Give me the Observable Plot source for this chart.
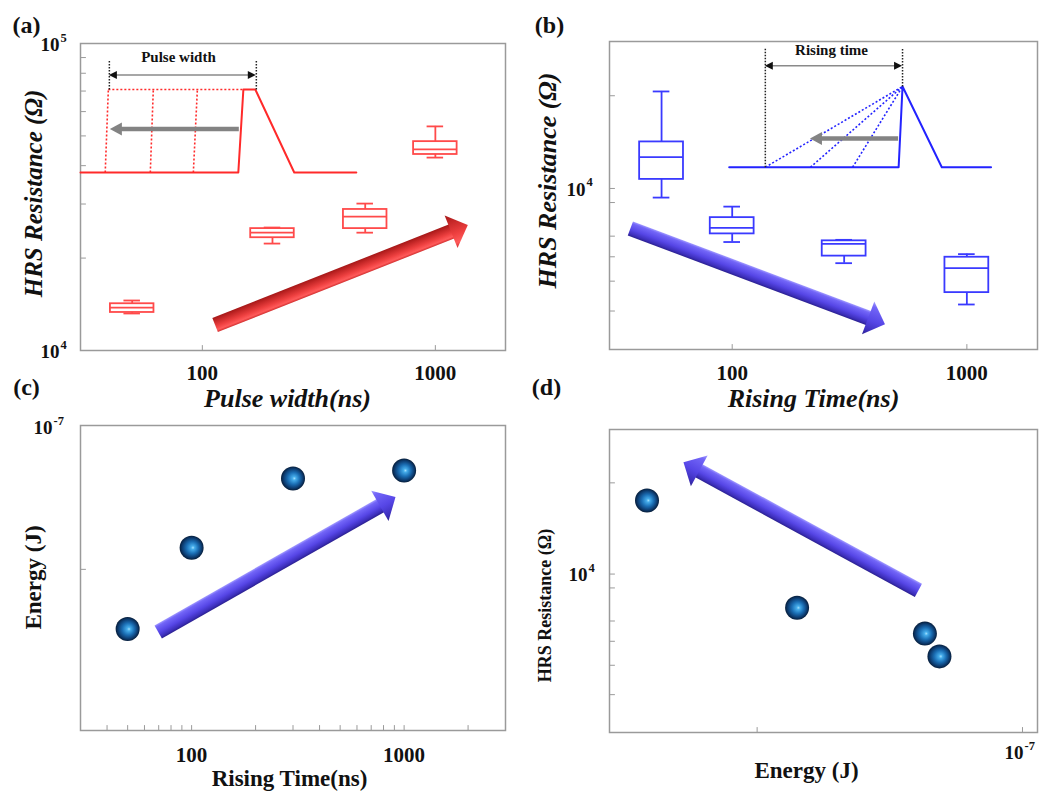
<!DOCTYPE html>
<html>
<head>
<meta charset="utf-8">
<script src="https://cdn.jsdelivr.net/npm/d3@7"></script>
<script src="https://cdn.jsdelivr.net/npm/@observablehq/plot@0.6"></script>
<style>
  html, body { margin: 0; padding: 0; background: #fff; }
  #fig { position: relative; width: 1045px; height: 796px; overflow: hidden; }
  #fig > div { position: absolute; }
  #fig svg { overflow: visible; }
</style>
</head>
<body>
<div id="fig"></div>
<script>
const serif = "'Liberation Serif', 'Times New Roman', serif";
const ink = "#111111";
const frameGray = "#9a9a9a";

// ---------- data ----------
// (a) HRS resistance after pulses of different width (box statistics, ohm)
const pulseWidth = [50, 200, 500, 1000];
const pwLow  = [13200, 22300, 24200, 42500];
const pwQ1   = [13300, 23300, 24950, 43500];
const pwMed  = [13800, 24200, 27300, 45200];
const pwQ3   = [14200, 24950, 28800, 47900];
const pwHigh = [14550, 25150, 30100, 53700];

// (b) HRS resistance after pulses of different rising time (ohm)
const risingTime = [50, 100, 300, 1000];
const rtLow  = [9340, 6700, 5720, 4200];
const rtQ1   = [10700, 7120, 6030, 4590];
const rtMed  = [12640, 7450, 6610, 5510];
const rtQ3   = [14160, 8040, 6760, 5980];
const rtHigh = [20650, 8730, 6810, 6120];

// (c)(d) switching energy (J) and HRS (ohm) for each rising time
const energy = [3.75e-8, 5.55e-8, 7.75e-8, 8.05e-8];
const hrs    = [17500, 7740, 6360, 5350];

// axis ticks and labels
const timeTicks = [100, 1000];
const timeTickLabels = ["100", "1000"];
const timeMinor = [40, 50, 60, 70, 80, 90, 100, 200, 300, 400, 500, 600, 700, 800, 900, 1000, 2000];
const resMinorA = [2e4, 3e4, 4e4, 5e4, 6e4, 7e4, 8e4, 9e4];
const resDecadesA = [1e4, 1e5];
const resExpA = ["4", "5"];
const resMinorB = [4000, 5000, 6000, 7000, 9000, 1e4, 2e4];
const resDecadesB = [1e4];
const resExpB = ["4"];
const energyTicks = [5e-8, 1e-7];
const energyDecades = [1e-7];
const energyExp = ["-7"];

// inset sketch (a): rectangular pulse and shorter pulse widths
const pwPulseT = [30, 142.7, 150, 168.8, 248, 458];
const pwPulseV = [38000, 38000, 70800, 70800, 38000, 38000];
const pwEdgeLow = [38.3, 59.8, 91.5];
const pwEdgeHigh = [39.5, 61.6, 95.2];
const pwLevels = [38000, 70800];
const pwGuideT = [39.9, 170.5];
const pwGuideV = [70800, 88000];
const pwSpanV = 78660;
const pwLabel = [[79, 89950, "Pulse width"]];
const pwShift = [[144.1, 52470], [40.3, 52470]];

// inset sketch (b): triangular pulse and longer rising ramps
const rtPulseT = [97.1, 512, 532, 782, 1268];
const rtPulseV = [11720, 11720, 21430, 11720, 11720];
const rtApex = [532, 21430];
const rtRampStart = [138.4, 215.5, 326];
const rtBase = 11720;
const rtGuideT = [138.4, 532];
const rtGuideLow = [11720, 21430];
const rtGuideTop = 28580;
const rtSpanV = 24930;
const rtLabel = [[265, 28130, "Rising time"]];
const rtShift = [[512, 14480], [215.5, 14480]];

// trend arrows, tail -> head, in each panel's data units
const trendA = [[114, 12060], [1385, 25530]];
const trendB = [[37, 7390], [450, 3610]];
const trendC = [[70, 3.69e-8], [916, 7.07e-8]];
const trendD = [[7.63e-8, 8800], [4.13e-8, 23280]];

// ---------- helpers ----------
const fig = document.getElementById("fig");
function place(node, left, top) {
  const d = document.createElement("div");
  d.style.left = left + "px";
  d.style.top = top + "px";
  d.appendChild(node);
  fig.appendChild(d);
}

const tickShape = {draw(ctx, l) { ctx.moveTo(0, 0); ctx.lineTo(0, -l); }};
function xTicks(values, yBase) {
  return Plot.vector(values, {x: d => d, y: () => yBase, length: 5, rotate: 0, anchor: "start",
    shape: tickShape, stroke: frameGray, strokeWidth: 1});
}
function yTicks(values, xBase) {
  return Plot.vector(values, {x: () => xBase, y: d => d, length: 5, rotate: 90, anchor: "start",
    shape: tickShape, stroke: frameGray, strokeWidth: 1});
}

// "10" with a raised exponent, for decade labels
function decadeLabels(values, exps, axis, {dx, dy = 0, size = 19, expSize = 12.5, frameAnchor}) {
  const pos = axis === "y" ? {y: d => d} : {x: d => d};
  const common = {...pos, frameAnchor, lineAnchor: "middle", fontWeight: "bold", fill: ink};
  return [
    Plot.text(values, {...common, text: () => "10", textAnchor: "end", dx, dy, fontSize: size}),
    Plot.text(values, {...common, text: (d, i) => exps[i], textAnchor: "start", dx: dx + 1, dy: dy - 7, fontSize: expSize})
  ];
}

function boxMarks(rows, color, half = 1.24, cap = 1.085) {
  const s = {stroke: color, strokeWidth: 1.8};
  return [
    Plot.ruleX(rows, {x: "x", y1: "q3", y2: "hi", ...s}),
    Plot.ruleX(rows, {x: "x", y1: "lo", y2: "q1", ...s}),
    Plot.ruleY(rows, {y: "hi", x1: d => d.x / cap, x2: d => d.x * cap, ...s}),
    Plot.ruleY(rows, {y: "lo", x1: d => d.x / cap, x2: d => d.x * cap, ...s}),
    Plot.rect(rows, {x1: d => d.x / half, x2: d => d.x * half, y1: "q1", y2: "q3", fill: "white", ...s}),
    Plot.ruleY(rows, {y: "med", x1: d => d.x / half, x2: d => d.x * half, ...s})
  ];
}

// filled arrow drawn in screen space between the link's projected end points
let shadeSeq = 0;
function arrowRender({shaft = 0, line = null, headLen, headWidth, fill = null, stops = null, both = false}) {
  return (index, scales, values) => {
    const g = d3.create("svg:g");
    const defs = g.append("defs");
    for (const i of index) {
      const a = [values.x1[i], values.y1[i]], b = [values.x2[i], values.y2[i]];
      const L = Math.hypot(b[0] - a[0], b[1] - a[1]);
      const u = [(b[0] - a[0]) / L, (b[1] - a[1]) / L];
      let n = [u[1], -u[0]];
      if (n[1] > 0 || (n[1] === 0 && n[0] < 0)) n = [-n[0], -n[1]]; // n points to the upper edge
      const pt = (p, along, across) => [p[0] + u[0] * along + n[0] * across, p[1] + u[1] * along + n[1] * across];
      const paint = (c, w) => {
        if (!stops) return fill;
        const id = `arrow-shade-${++shadeSeq}`;
        const p = pt(c, 0, w / 2), q = pt(c, 0, -w / 2);
        const lg = defs.append("linearGradient").attr("id", id).attr("gradientUnits", "userSpaceOnUse")
          .attr("x1", p[0]).attr("y1", p[1]).attr("x2", q[0]).attr("y2", q[1]);
        for (const [o, col] of stops) lg.append("stop").attr("offset", o).attr("stop-color", col);
        return `url(#${id})`;
      };
      const poly = (pts, f) => g.append("path")
        .attr("d", "M" + pts.map(p => p[0].toFixed(2) + "," + p[1].toFixed(2)).join("L") + "Z")
        .attr("fill", f);
      const s0 = both ? pt(a, headLen - 1, 0) : a;
      const s1 = pt(b, -headLen + 1, 0);
      if (line) {
        g.append("line").attr("x1", s0[0]).attr("y1", s0[1]).attr("x2", s1[0]).attr("y2", s1[1])
          .attr("stroke", line.color).attr("stroke-width", line.width);
      } else {
        const mid = [(s0[0] + s1[0]) / 2, (s0[1] + s1[1]) / 2];
        poly([pt(s0, 0, shaft / 2), pt(s1, 0, shaft / 2), pt(s1, 0, -shaft / 2), pt(s0, 0, -shaft / 2)], paint(mid, shaft));
      }
      const head = (tip, dir) => {
        const base = pt(tip, -dir * headLen, 0);
        poly([pt(base, 0, headWidth / 2), tip, pt(base, 0, -headWidth / 2)], paint(base, headWidth));
      };
      head(b, 1);
      if (both) head(a, -1);
    }
    return g.node();
  };
}
function arrowLink(seg, opts) {
  return Plot.link([seg], {x1: d => d[0][0], y1: d => d[0][1], x2: d => d[1][0], y2: d => d[1][1],
    render: arrowRender(opts)});
}
const redShade = [[0, "#a51818"], [0.25, "#c62828"], [0.6, "#ee4040"], [0.85, "#ff5a5a"], [1, "#d23030"]];
const violetShade = [[0, "#a39cff"], [0.15, "#7366f8"], [0.55, "#5646e6"], [0.85, "#3d2fbb"], [1, "#2b2090"]];
const fatArrow = {shaft: 15, headLen: 18, headWidth: 35};

function ballDefs(id) {
  return () => {
    const defs = d3.create("svg:defs");
    const rg = defs.append("radialGradient").attr("id", id)
      .attr("cx", "50%").attr("cy", "50%").attr("r", "50%").attr("fx", "56%").attr("fy", "50%");
    for (const [o, c] of [[0, "#9fe0ff"], [0.15, "#45acea"], [0.5, "#1a6db3"], [0.8, "#0d3d72"], [1, "#061d3a"]]) {
      rg.append("stop").attr("offset", o).attr("stop-color", c);
    }
    return defs.node();
  };
}

const rows = (xs, lo, q1, med, q3, hi) => xs.map((x, i) => ({x, lo: lo[i], q1: q1[i], med: med[i], q3: q3[i], hi: hi[i]}));
const pts = (xs, ys) => xs.map((x, i) => ({x, y: ys[i]}));
const textStyle = {fontFamily: serif, fill: ink, fontWeight: "bold", textAnchor: "middle", lineAnchor: "middle"};
const plotStyle = {fontFamily: serif, color: ink, background: "transparent", overflow: "visible"};

// ---------- (a) HRS vs pulse width ----------
const red = "#ff2a2a";
const boxRed = "#ff4a4a";
place(Plot.plot({
  width: 520, height: 412,
  marginLeft: 80, marginRight: 15, marginTop: 43, marginBottom: 62,
  x: {type: "log", domain: [30, 2000], axis: null},
  y: {type: "log", domain: [1e4, 1e5], axis: null},
  style: plotStyle,
  marks: [
    Plot.frame({stroke: frameGray, strokeWidth: 1.5}),
    xTicks(timeTicks, 1e4),
    yTicks(resMinorA, 30),
    // pulse sketch
    Plot.link(pwEdgeLow, {x1: d => d, y1: pwLevels[0], x2: (d, i) => pwEdgeHigh[i], y2: pwLevels[1],
      stroke: red, strokeWidth: 1.6, strokeDasharray: "2,2"}),
    Plot.link([pwEdgeHigh[0]], {x1: d => d, x2: pwPulseT[2], y1: pwLevels[1], y2: pwLevels[1],
      stroke: red, strokeWidth: 1.6, strokeDasharray: "2,2"}),
    Plot.line(pts(pwPulseT, pwPulseV), {x: "x", y: "y", stroke: red, strokeWidth: 2}),
    Plot.link(pwGuideT, {x1: d => d, x2: d => d, y1: pwGuideV[0], y2: pwGuideV[1],
      stroke: "#222", strokeWidth: 1.5, strokeDasharray: "1.5,1.5"}),
    arrowLink([[pwGuideT[1], pwSpanV], [pwGuideT[0], pwSpanV]],
      {line: {color: "#8a8a8a", width: 1.3}, headLen: 8, headWidth: 8, fill: "#111", both: true}),
    Plot.text(pwLabel, {x: d => d[0], y: d => d[1], text: d => d[2], ...textStyle, fontSize: 15}),
    arrowLink(pwShift, {shaft: 4.5, headLen: 12, headWidth: 13, fill: "#838383"}),
    ...boxMarks(rows(pulseWidth, pwLow, pwQ1, pwMed, pwQ3, pwHigh), boxRed),
    arrowLink(trendA, {...fatArrow, stops: redShade}),
    // labels
    Plot.text(["(a)"], {frameAnchor: "top-left", dx: -54, dy: -18, text: d => d, ...textStyle, fontSize: 24}),
    Plot.text(["HRS Resistance (Ω)"], {frameAnchor: "left", dx: -47, dy: -3.5, rotate: -90, text: d => d,
      ...textStyle, fontSize: 25, fontStyle: "italic"}),
    Plot.text(["Pulse width(ns)"], {frameAnchor: "bottom", dx: -5.5, dy: 48, text: d => d,
      ...textStyle, fontSize: 26, fontStyle: "italic"}),
    Plot.text(timeTicks, {x: d => d, frameAnchor: "bottom", dy: 23, text: (d, i) => timeTickLabels[i], ...textStyle, fontSize: 21}),
    ...decadeLabels(resDecadesA, resExpA, "y", {dx: -21, dy: 1, frameAnchor: "left"})
  ]
}), 0, 0);

// ---------- (b) HRS vs rising time ----------
const blue = "#2323ff";
const boxBlue = "#3a3aff";
place(Plot.plot({
  width: 525, height: 412,
  marginLeft: 89, marginRight: 8, marginTop: 41, marginBottom: 63,
  x: {type: "log", domain: [30, 2000], axis: null},
  y: {type: "log", domain: [3000, 30000], axis: null},
  style: plotStyle,
  marks: [
    Plot.frame({stroke: frameGray, strokeWidth: 1.5}),
    xTicks(timeTicks, 3000),
    yTicks(resMinorB, 30),
    // ramp sketch
    Plot.link(rtRampStart, {x1: d => d, y1: rtBase, x2: rtApex[0], y2: rtApex[1],
      stroke: blue, strokeWidth: 1.6, strokeDasharray: "2,2"}),
    Plot.line(pts(rtPulseT, rtPulseV), {x: "x", y: "y", stroke: blue, strokeWidth: 2}),
    Plot.link(rtGuideT, {x1: d => d, x2: d => d, y1: (d, i) => rtGuideLow[i], y2: rtGuideTop,
      stroke: "#222", strokeWidth: 1.5, strokeDasharray: "1.5,1.5"}),
    arrowLink([[rtGuideT[1], rtSpanV], [rtGuideT[0], rtSpanV]],
      {line: {color: "#8a8a8a", width: 1.3}, headLen: 8, headWidth: 8, fill: "#111", both: true}),
    Plot.text(rtLabel, {x: d => d[0], y: d => d[1], text: d => d[2], ...textStyle, fontSize: 15}),
    arrowLink(rtShift, {shaft: 4.5, headLen: 12, headWidth: 13, fill: "#838383"}),
    ...boxMarks(rows(risingTime, rtLow, rtQ1, rtMed, rtQ3, rtHigh), boxBlue),
    arrowLink(trendB, {...fatArrow, stops: violetShade}),
    // labels
    Plot.text(["(b)"], {frameAnchor: "top-left", dx: -60, dy: -16, text: d => d, ...textStyle, fontSize: 24}),
    Plot.text(["HRS Resistance (Ω)"], {frameAnchor: "left", dx: -62, dy: -15, rotate: -90, text: d => d,
      ...textStyle, fontSize: 26, fontStyle: "italic"}),
    Plot.text(["Rising Time(ns)"], {frameAnchor: "bottom", dx: -10, dy: 49, text: d => d,
      ...textStyle, fontSize: 26, fontStyle: "italic"}),
    Plot.text(timeTicks, {x: d => d, frameAnchor: "bottom", dy: 24, text: (d, i) => timeTickLabels[i], ...textStyle, fontSize: 21}),
    ...decadeLabels(resDecadesB, resExpB, "y", {dx: -24, dy: 1, frameAnchor: "left"})
  ]
}), 520, 0);

// ---------- (c) energy vs rising time ----------
place(Plot.plot({
  width: 520, height: 424,
  marginLeft: 80, marginRight: 15, marginTop: 53, marginBottom: 66,
  x: {type: "log", domain: [30, 3000], axis: null},
  y: {type: "log", domain: [2.3e-8, 1e-7], axis: null},
  style: plotStyle,
  marks: [
    ballDefs("ball-c"),
    Plot.frame({stroke: frameGray, strokeWidth: 1.5}),
    xTicks(timeMinor, 2.3e-8),
    yTicks(energyTicks, 30),
    Plot.dot(pts(risingTime, energy), {x: "x", y: "y", r: 12, fill: "url(#ball-c)", stroke: "none"}),
    arrowLink(trendC, {...fatArrow, stops: violetShade}),
    Plot.text(["(c)"], {frameAnchor: "top-left", dx: -54, dy: -38, text: d => d, ...textStyle, fontSize: 24}),
    Plot.text(["Energy (J)"], {frameAnchor: "left", dx: -47, dy: -0.5, rotate: -90, text: d => d, ...textStyle, fontSize: 23}),
    Plot.text(["Rising Time(ns)"], {frameAnchor: "bottom", dx: -3.5, dy: 48, text: d => d, ...textStyle, fontSize: 23}),
    Plot.text(timeTicks, {x: d => d, frameAnchor: "bottom", dy: 25, text: (d, i) => timeTickLabels[i], ...textStyle, fontSize: 21}),
    ...decadeLabels(energyDecades, energyExp, "y", {dx: -28, dy: 2, frameAnchor: "left"})
  ]
}), 0, 372);

// ---------- (d) HRS vs energy ----------
place(Plot.plot({
  width: 525, height: 424,
  marginLeft: 89, marginRight: 8, marginTop: 57, marginBottom: 64,
  x: {type: "log", domain: [3.4e-8, 1.04e-7], axis: null},
  y: {type: "log", domain: [3000, 30000], axis: null},
  style: plotStyle,
  marks: [
    ballDefs("ball-d"),
    Plot.frame({stroke: frameGray, strokeWidth: 1.5}),
    xTicks(energyTicks, 3000),
    yTicks(resMinorB, 3.4e-8),
    Plot.dot(pts(energy, hrs), {x: "x", y: "y", r: 12, fill: "url(#ball-d)", stroke: "none"}),
    arrowLink(trendD, {...fatArrow, stops: violetShade}),
    Plot.text(["(d)"], {frameAnchor: "top-left", dx: -63, dy: -42, text: d => d, ...textStyle, fontSize: 24}),
    Plot.text(["HRS Resistance (Ω)"], {frameAnchor: "left", dx: -64, dy: 24.5, rotate: -90, text: d => d, ...textStyle, fontSize: 18}),
    Plot.text(["Energy (J)"], {frameAnchor: "bottom", dx: -17, dy: 38, text: d => d, ...textStyle, fontSize: 23}),
    ...decadeLabels(resDecadesB, resExpB, "y", {dx: -22, dy: 1, frameAnchor: "left"}),
    ...decadeLabels(energyDecades, energyExp, "x", {dx: 1, dy: 20, frameAnchor: "bottom"})
  ]
}), 520, 372);
</script>
</body>
</html>
